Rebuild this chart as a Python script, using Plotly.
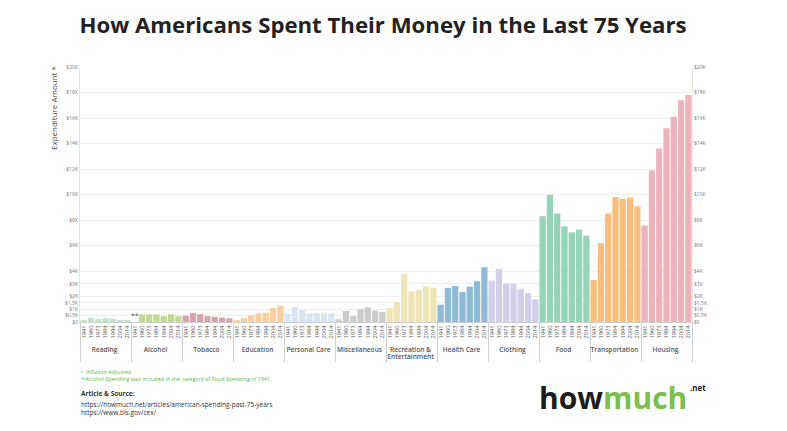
import plotly.graph_objects as go

categories = ["Reading", "Alcohol", "Tobacco", "Education", "Personal Care", "Miscellaneous",
              "Recreation &<br>Entertainment", "Health Care", "Clothing", "Food", "Transportation", "Housing"]
years = ["1941", "1960", "1973", "1984", "1994", "2004", "2014"]

reading = [160, 340, 240, 290, 260, 130, 80]
alcohol = [None, 600, 600, 600, 450, 600, 450]
tobacco = [500, 710, 620, 450, 400, 340, 290]
education = [160, 310, 520, 680, 730, 1100, 1260]
personal_care = [630, 1150, 940, 680, 680, 680, 680]
miscellaneous = [210, 860, 470, 1000, 1150, 890, 790]
recreation = [1100, 1570, 3750, 2400, 2500, 2800, 2700]
health_care = [1360, 2680, 2830, 2360, 2780, 3200, 4300]
clothing = [3250, 4150, 3000, 3000, 2600, 2260, 1780]
food = [8300, 9970, 8500, 7500, 7030, 7240, 6770]
transportation = [3300, 6200, 8500, 9800, 9660, 9760, 9080]
housing = [7560, 11900, 13600, 15200, 16100, 17400, 17800]

series = [reading, alcohol, tobacco, education, personal_care, miscellaneous,
          recreation, health_care, clothing, food, transportation, housing]
colors = ["#c2e2cc", "#c4d98f", "#d6a4ac", "#fbcf9f", "#d6e4f3", "#cbcbcb",
          "#efe4b6", "#8fbad7", "#d2cfea", "#95d4b9", "#f7be7e", "#ebb4bd"]

tick_vals = [0, 500, 1000, 1500, 2000, 3000, 4000, 6000, 8000, 10000, 12000, 14000, 16000, 18000, 20000]
tick_text = ["$0", "$0.5K", "$1K", "$1.5K", "$2K", "$3K", "$4K", "$6K", "$8K", "$10K",
             "$12K", "$14K", "$16K", "$18K", "$20K"]

span_open = "<span style='font-size:6.6px;font-weight:600'>"
xg, xy, yv, cv = [], [], [], []
for cat, vals, col in zip(categories, series, colors):
    label = span_open + cat.replace("<br>", "</span><br>" + span_open) + "</span>"
    for yr, v in zip(years, vals):
        xg.append(label)
        xy.append(yr)
        yv.append(v)
        cv.append(col)

n_bars = len(xg)

fig = go.Figure()
fig.add_trace(go.Bar(x=[xg, xy], y=yv, marker=dict(color=cv, line=dict(width=0)),
                     showlegend=False, hoverinfo="x+y"))
# invisible copy on the right-hand axis so that it is drawn
fig.add_trace(go.Scatter(x=[xg, xy], y=[0 if v is None else v for v in yv], yaxis="y2",
                         mode="markers", marker=dict(opacity=0, size=1), showlegend=False,
                         hoverinfo="skip"))

# the page has an 8px body margin, so the figure is drawn 8px in from the window edge
W, H = 779, 423

# helpers: window pixel position -> paper fraction (plot area x 80..692, y 322..67)
def px(p):
    return (p - 80) / 612.0

def py(p):
    return (322 - p) / 255.0

axis_font = dict(family="Open Sans", size=5, color="#777")
fig.update_layout(
    width=W, height=H,
    paper_bgcolor="white", plot_bgcolor="white",
    margin=dict(l=72, r=95, t=59, b=109),
    bargap=0.14,
    title=dict(text="<b>How Americans Spent Their Money in the Last 75 Years</b>",
               x=375 / W, xanchor="center", y=1 - 17 / H, yanchor="middle",
               font=dict(family="Open Sans", size=22.2, color="#222")),
    xaxis=dict(type="multicategory", tickangle=-90, showgrid=False, tick0=0, dtick=1,
               range=[-0.5, n_bars - 0.5], autorange=False,
               tickfont=dict(family="Open Sans", size=5.8, color="#555"),
               showdividers=True, dividercolor="#cfcfcf", dividerwidth=1,
               showline=True, linecolor="#cfcfcf", ticks="", zeroline=False),
    yaxis=dict(range=[0, 20000], tickvals=tick_vals, ticktext=tick_text, tickfont=axis_font,
               showgrid=True, gridcolor="#efefef", gridwidth=1, zeroline=False,
               showline=True, linecolor="#e3e3e3", ticks=""),
    yaxis2=dict(range=[0, 20000], tickvals=tick_vals, ticktext=tick_text, tickfont=axis_font,
                overlaying="y", side="right", showgrid=False, zeroline=False,
                showline=True, linecolor="#e3e3e3", ticks=""),
)

# label for the missing alcohol 1941 bar
fig.add_annotation(x=7, y=0, xref="x", yref="y", text="**", showarrow=False,
                   yanchor="bottom", font=dict(family="Open Sans", size=7, color="#555"))

fig.add_annotation(x=px(53), y=py(64), xref="paper", yref="paper", text="Expenditure Amount *",
                   showarrow=False, textangle=-90, xanchor="center", yanchor="top",
                   font=dict(family="Open Sans", size=8, color="#444"))

notes_font = dict(family="Open Sans", size=5.5, color="#6ab04c")
fig.add_annotation(x=px(79), y=py(372), xref="paper", yref="paper", text="•  Inflation Adjusted",
                   showarrow=False, xanchor="left", yanchor="middle", font=notes_font)
fig.add_annotation(x=px(79), y=py(379), xref="paper", yref="paper",
                   text="••Alcohol Spending was included in the category of Food Spending in 1941",
                   showarrow=False, xanchor="left", yanchor="middle", font=notes_font)
fig.add_annotation(x=px(79), y=py(394), xref="paper", yref="paper", text="<b>Article & Source:</b>",
                   showarrow=False, xanchor="left", yanchor="middle",
                   font=dict(family="Open Sans", size=6.5, color="#333"))
fig.add_annotation(x=px(79), y=py(404), xref="paper", yref="paper",
                   text="https://howmuch.net/articles/american-spending-past-75-years",
                   showarrow=False, xanchor="left", yanchor="middle",
                   font=dict(family="Open Sans", size=6.5, color="#333"))
fig.add_annotation(x=px(79), y=py(412), xref="paper", yref="paper",
                   text="https://www.bls.gov/cex/",
                   showarrow=False, xanchor="left", yanchor="middle",
                   font=dict(family="Open Sans", size=6.5, color="#333"))

# logo
fig.add_annotation(x=px(537), y=py(397), xref="paper", yref="paper",
                   text="<b>how<span style='color:#7cc04b'>much</span></b>",
                   showarrow=False, xanchor="left", yanchor="middle",
                   font=dict(family="Open Sans", size=30, color="#1d1d1d"))
fig.add_annotation(x=px(688), y=py(387), xref="paper", yref="paper", text="<b>.net</b>",
                   showarrow=False, xanchor="left", yanchor="middle",
                   font=dict(family="Open Sans", size=8, color="#1d1d1d"))

fig.write_html("out.html")
